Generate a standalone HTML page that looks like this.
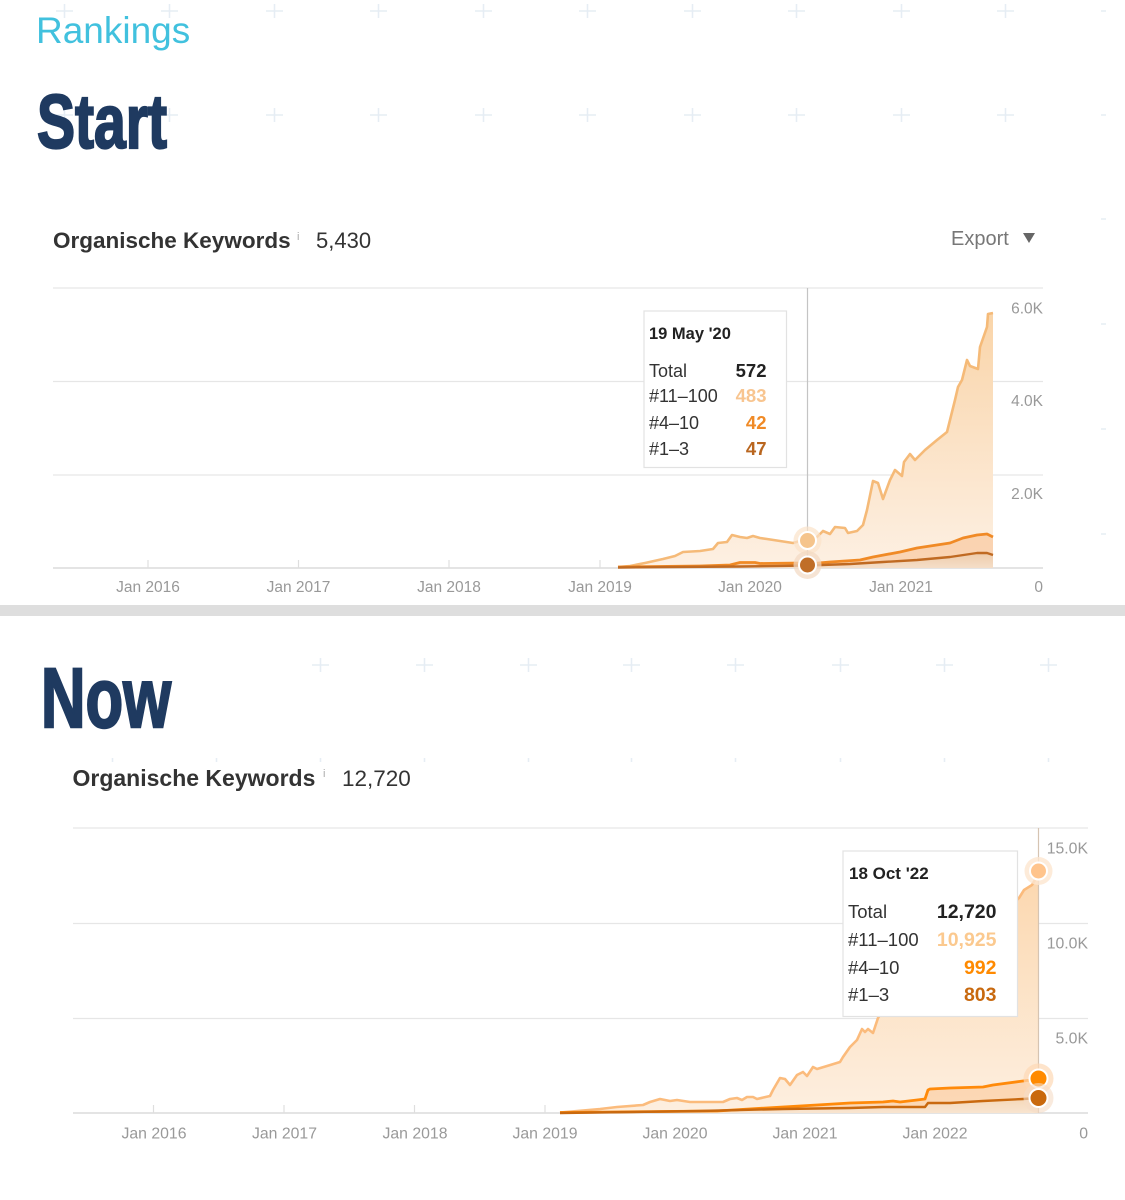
<!DOCTYPE html>
<html>
<head>
<meta charset="utf-8">
<style>
  html,body{margin:0;padding:0;background:#fff;}
  svg{display:block;}
  text{font-family:"Liberation Sans",Arial,sans-serif;}
</style>
</head>
<body>
<svg width="1125" height="1200" viewBox="0 0 1125 1200" xmlns="http://www.w3.org/2000/svg">
  <defs>
    <linearGradient id="tl1" gradientUnits="userSpaceOnUse" x1="0" y1="300" x2="0" y2="568">
      <stop offset="0" stop-color="#f9d3a6"/>
      <stop offset="1" stop-color="#fdf0e3"/>
    </linearGradient>
    <linearGradient id="td1" gradientUnits="userSpaceOnUse" x1="0" y1="535" x2="0" y2="568">
      <stop offset="0" stop-color="#e2ae7c"/>
      <stop offset="1" stop-color="#f3e0cd"/>
    </linearGradient>
    <linearGradient id="bl1" gradientUnits="userSpaceOnUse" x1="0" y1="860" x2="0" y2="1113">
      <stop offset="0" stop-color="#fcd6ac"/>
      <stop offset="1" stop-color="#fdefe0"/>
    </linearGradient>
    <linearGradient id="bd1" gradientUnits="userSpaceOnUse" x1="0" y1="1080" x2="0" y2="1113">
      <stop offset="0" stop-color="#f2c596"/>
      <stop offset="1" stop-color="#f7e6d4"/>
    </linearGradient>
  </defs>

  <!-- background plus pattern -->
  <g stroke="#e6edf4" stroke-width="1.5">
    <path d="M56 11h17M64.5 4v14"/>
    <path d="M161 11h17M169.5 4v14"/>
    <path d="M266 11h17M274.5 4v14"/>
    <path d="M370 11h17M378.5 4v14"/>
    <path d="M475 11h17M483.5 4v14"/>
    <path d="M579 11h17M587.5 4v14"/>
    <path d="M684 11h17M692.5 4v14"/>
    <path d="M788 11h17M796.5 4v14"/>
    <path d="M893 11h17M901.5 4v14"/>
    <path d="M997 11h17M1005.5 4v14"/>

    <path d="M56 115h17M64.5 108v14"/>
    <path d="M161 115h17M169.5 108v14"/>
    <path d="M266 115h17M274.5 108v14"/>
    <path d="M370 115h17M378.5 108v14"/>
    <path d="M475 115h17M483.5 108v14"/>
    <path d="M579 115h17M587.5 108v14"/>
    <path d="M684 115h17M692.5 108v14"/>
    <path d="M788 115h17M796.5 108v14"/>
    <path d="M893 115h17M901.5 108v14"/>
    <path d="M997 115h17M1005.5 108v14"/>
    <path d="M1101 11h5M1101 115h5M1101 219h5M1101 324h5M1101 429h5M1101 534h5"/>

    <path d="M312 665h17M320.5 658v14"/>
    <path d="M416 665h17M424.5 658v14"/>
    <path d="M520 665h17M528.5 658v14"/>
    <path d="M623 665h17M631.5 658v14"/>
    <path d="M727 665h17M735.5 658v14"/>
    <path d="M832 665h17M840.5 658v14"/>
    <path d="M936 665h17M944.5 658v14"/>
    <path d="M1040 665h17M1048.5 658v14"/>
    <path d="M112.5 758v4M216.5 758v4M320.5 758v4M424.5 758v4M528.5 758v4M631.5 758v4M735.5 758v4M840.5 758v4M944.5 758v4M1048.5 758v4"/>
  </g>

  <!-- Titles -->
  <text x="36" y="43" font-size="37" fill="#41c1de">Rankings</text>
  <text x="37" y="148" font-size="76" font-weight="bold" fill="#1f3a60" stroke="#1f3a60" stroke-width="2.2" stroke-linejoin="miter" textLength="130" lengthAdjust="spacingAndGlyphs">Start</text>

  <!-- ===== Top chart header ===== -->
  <text x="53" y="248" font-size="22.5" font-weight="bold" fill="#333">Organische Keywords</text>
  <text x="297" y="240" font-size="11" fill="#aaa">i</text>
  <text x="316" y="248" font-size="22" fill="#333">5,430</text>
  <text x="951" y="245" font-size="20" fill="#777">Export</text>
  <polygon points="1023,233 1035,233 1029,243" fill="#666"/>

  <!-- Top chart grid -->
  <g stroke="#e6e6e6" stroke-width="1.2">
    <line x1="53" y1="288" x2="1043" y2="288"/>
    <line x1="53" y1="381.5" x2="1043" y2="381.5"/>
    <line x1="53" y1="475" x2="1043" y2="475"/>
  </g>
  <line x1="53" y1="568" x2="1043" y2="568" stroke="#dcdcdc" stroke-width="1.5"/>
  <g stroke="#dedede" stroke-width="1.2">
    <line x1="148" y1="560" x2="148" y2="568"/>
    <line x1="298.5" y1="560" x2="298.5" y2="568"/>
    <line x1="449" y1="560" x2="449" y2="568"/>
    <line x1="600" y1="560" x2="600" y2="568"/>
    <line x1="750" y1="560" x2="750" y2="568"/>
    <line x1="901" y1="560" x2="901" y2="568"/>
  </g>
  <g font-size="15.5" fill="#999" text-anchor="middle">
    <text x="148" y="592">Jan 2016</text>
    <text x="298.5" y="592">Jan 2017</text>
    <text x="449" y="592">Jan 2018</text>
    <text x="600" y="592">Jan 2019</text>
    <text x="750" y="592">Jan 2020</text>
    <text x="901" y="592">Jan 2021</text>
  </g>
  <g font-size="15.5" fill="#999" text-anchor="end">
    <text x="1043" y="313.5">6.0K</text>
    <text x="1043" y="406">4.0K</text>
    <text x="1043" y="499">2.0K</text>
    <text x="1043" y="592">0</text>
  </g>

  <!-- Top chart series -->
  <path fill="url(#tl1)" d="M618,567 L630,566 L645,563 L663,559 L675,556 L683,552 L700,551 L713,549 L718,543 L727,542 L732,535 L740,537 L747,538 L753,536 L760,538 L767,539 L780,541 L793,543 L800,541 L807,541 L812,540 L817,537 L823,531 L830,534 L835,527 L845,528 L848,533 L857,531 L863,525 L867,510 L873,481 L878,483 L883,499 L890,480 L895,470 L902,476 L904,462 L910,454 L915,460 L925,450 L937,440 L947,432 L950,420 L955,400 L958,387 L962,380 L967,360 L970,366 L978,369 L980,347 L987,327 L988,314 L993,313 L993,568 L618,568 Z"/>
  <path fill="#f4a868" fill-opacity="0.38" d="M618,567 L700,566 L730,565 L740,562.5 L755,562.5 L760,563.5 L800,563 L807,564 L830,562 L860,560 L873,557 L900,552 L917,548 L950,543 L963,538 L977,535 L987,534 L993,537 L993,568 L618,568 Z"/>
  <path fill="url(#td1)" fill-opacity="0.8" d="M618,567.5 L740,566.5 L807,565.5 L850,564 L883,562 L917,560 L950,557 L977,553 L987,553 L993,555 L993,568 L618,568 Z"/>
  <polyline fill="none" stroke="#f5ba78" stroke-width="2.6" stroke-linejoin="round" points="618,567 630,566 645,563 663,559 675,556 683,552 700,551 713,549 718,543 727,542 732,535 740,537 747,538 753,536 760,538 767,539 780,541 793,543 800,541 807,541 812,540 817,537 823,531 830,534 835,527 845,528 848,533 857,531 863,525 867,510 873,481 878,483 883,499 890,480 895,470 902,476 904,462 910,454 915,460 925,450 937,440 947,432 950,420 955,400 958,387 962,380 967,360 970,366 978,369 980,347 987,327 988,314 993,313"/>
  <polyline fill="none" stroke="#f08a26" stroke-width="2.8" stroke-linejoin="round" points="618,567 700,566 730,565 740,562.5 755,562.5 760,563.5 800,563 807,564 830,562 860,560 873,557 900,552 917,548 950,543 963,538 977,535 987,534 993,537"/>
  <polyline fill="none" stroke="#c06a22" stroke-width="2.4" stroke-linejoin="round" points="618,567.5 740,566.5 807,565.5 850,564 883,562 917,560 950,557 977,553 987,553 993,555"/>

  <!-- Top crosshair & tooltip -->
  <line x1="807.5" y1="288" x2="807.5" y2="568" stroke="#c4c4c4" stroke-width="1.2"/>
  <rect x="644" y="311" width="142.5" height="156.5" fill="#fff" stroke="#e2e2e2" stroke-width="1.2"/>
  <text x="649" y="339" font-size="16.5" font-weight="bold" fill="#222">19 May '20</text>
  <g font-size="18" fill="#333">
    <text x="649" y="377">Total</text>
    <text x="649" y="402">#11–100</text>
    <text x="649" y="429">#4–10</text>
    <text x="649" y="455">#1–3</text>
  </g>
  <g font-size="18.5" font-weight="bold" text-anchor="end">
    <text x="766.5" y="377" fill="#222">572</text>
    <text x="766.5" y="402" fill="#f8c590">483</text>
    <text x="766.5" y="429" fill="#f08a26">42</text>
    <text x="766.5" y="455" fill="#b9661f">47</text>
  </g>
  <!-- top dots -->
  <circle cx="807.5" cy="540.5" r="14" fill="#fbe3c9" fill-opacity="0.7"/>
  <circle cx="807.5" cy="540.5" r="8.5" fill="#f5c48c" stroke="#fff" stroke-width="2"/>
  <circle cx="807.5" cy="565" r="14" fill="#f2d9c2" fill-opacity="0.7"/>
  <circle cx="807.5" cy="565" r="8.5" fill="#c06e28" stroke="#fff" stroke-width="2"/>

  <!-- divider -->
  <rect x="0" y="605" width="1125" height="11" fill="#dedede"/>

  <!-- ===== Bottom section ===== -->
  <text x="41" y="727" font-size="84" font-weight="bold" fill="#1f3a60" stroke="#1f3a60" stroke-width="2.4" stroke-linejoin="miter" textLength="130" lengthAdjust="spacingAndGlyphs">Now</text>
  <text x="72.5" y="786" font-size="23" font-weight="bold" fill="#333">Organische Keywords</text>
  <text x="323" y="777" font-size="11" fill="#aaa">i</text>
  <text x="342" y="786" font-size="22.5" fill="#333">12,720</text>

  <g stroke="#e6e6e6" stroke-width="1.2">
    <line x1="73" y1="828" x2="1088" y2="828"/>
    <line x1="73" y1="923.5" x2="1088" y2="923.5"/>
    <line x1="73" y1="1018.5" x2="1088" y2="1018.5"/>
  </g>
  <line x1="73" y1="1113" x2="1088" y2="1113" stroke="#dcdcdc" stroke-width="1.5"/>
  <g stroke="#dedede" stroke-width="1.2">
    <line x1="153.5" y1="1105" x2="153.5" y2="1113"/>
    <line x1="284" y1="1105" x2="284" y2="1113"/>
    <line x1="414.5" y1="1105" x2="414.5" y2="1113"/>
    <line x1="545" y1="1105" x2="545" y2="1113"/>
    <line x1="675" y1="1105" x2="675" y2="1113"/>
    <line x1="805" y1="1105" x2="805" y2="1113"/>
    <line x1="935" y1="1105" x2="935" y2="1113"/>
  </g>
  <g font-size="15.8" fill="#999" text-anchor="middle">
    <text x="154" y="1138.5">Jan 2016</text>
    <text x="284.5" y="1138.5">Jan 2017</text>
    <text x="415" y="1138.5">Jan 2018</text>
    <text x="545" y="1138.5">Jan 2019</text>
    <text x="675" y="1138.5">Jan 2020</text>
    <text x="805" y="1138.5">Jan 2021</text>
    <text x="935" y="1138.5">Jan 2022</text>
  </g>
  <g font-size="15.8" fill="#999" text-anchor="end">
    <text x="1088" y="853.5">15.0K</text>
    <text x="1088" y="948.5">10.0K</text>
    <text x="1088" y="1043.5">5.0K</text>
    <text x="1088" y="1138.5">0</text>
  </g>

  <!-- Bottom series -->
  <path fill="url(#bl1)" d="M560,1112.5 L600,1109 L617,1107 L643,1105 L650,1102 L660,1099 L670,1101 L677,1100 L690,1102 L723,1102 L730,1099 L737,1098 L742,1100 L747,1097 L753,1097 L757,1099 L770,1096 L773,1090 L780,1078 L785,1079 L790,1085 L797,1075 L803,1072 L807,1076 L813,1067 L817,1069 L827,1066 L840,1062 L843,1057 L850,1047 L857,1040 L862,1029 L865,1032 L868,1029 L873,1033 L875,1027 L878,1018 L883,1010 L900,990 L920,975 L940,960 L960,945 L980,930 L1000,915 L1019,898 L1024,890 L1032,885 L1036,878 L1038,871 L1038,1113 L560,1113 Z"/>
  <path fill="#f9b06a" fill-opacity="0.35" d="M560,1112.5 L717,1111 L783,1107 L817,1105 L850,1103 L883,1102 L893,1101 L900,1102 L917,1100 L925,1099 L928,1090 L930,1089 L950,1088 L983,1087 L993,1085 L1023,1081 L1038,1079 L1038,1113 L560,1113 Z"/>
  <path fill="url(#bd1)" fill-opacity="0.85" d="M560,1113 L700,1111 L783,1109 L850,1108 L883,1107 L925,1107 L928,1103 L950,1103 L983,1101 L1023,1099 L1038,1098 L1038,1113 L560,1113 Z"/>
  <polyline fill="none" stroke="#fbbb7c" stroke-width="2.6" stroke-linejoin="round" points="560,1112.5 600,1109 617,1107 643,1105 650,1102 660,1099 670,1101 677,1100 690,1102 723,1102 730,1099 737,1098 742,1100 747,1097 753,1097 757,1099 770,1096 773,1090 780,1078 785,1079 790,1085 797,1075 803,1072 807,1076 813,1067 817,1069 827,1066 840,1062 843,1057 850,1047 857,1040 862,1029 865,1032 868,1029 873,1033 875,1027 878,1018 883,1010 900,990 920,975 940,960 960,945 980,930 1000,915 1019,898 1024,890 1032,885 1036,878 1038,871"/>
  <polyline fill="none" stroke="#ff8a0a" stroke-width="2.8" stroke-linejoin="round" points="560,1112.5 717,1111 783,1107 817,1105 850,1103 883,1102 893,1101 900,1102 917,1100 925,1099 928,1090 930,1089 950,1088 983,1087 993,1085 1023,1081 1038,1079"/>
  <polyline fill="none" stroke="#c9690f" stroke-width="2.4" stroke-linejoin="round" points="560,1113 700,1111 783,1109 850,1108 883,1107 925,1107 928,1103 950,1103 983,1101 1023,1099 1038,1098"/>

  <!-- Bottom crosshair & tooltip -->
  <line x1="1038.5" y1="828" x2="1038.5" y2="1113" stroke="#d6c4b2" stroke-width="1.2"/>
  <rect x="843" y="851" width="174.5" height="165.5" fill="#fff" stroke="#e2e2e2" stroke-width="1.2"/>
  <text x="849" y="879" font-size="17" font-weight="bold" fill="#222">18 Oct '22</text>
  <g font-size="18.5" fill="#333">
    <text x="848" y="918">Total</text>
    <text x="848" y="946">#11–100</text>
    <text x="848" y="974">#4–10</text>
    <text x="848" y="1001">#1–3</text>
  </g>
  <g font-size="19.5" font-weight="bold" text-anchor="end">
    <text x="996.5" y="918" fill="#222">12,720</text>
    <text x="996.5" y="946" fill="#fbc98f">10,925</text>
    <text x="996.5" y="974" fill="#ff8a00">992</text>
    <text x="996.5" y="1001" fill="#c8690f">803</text>
  </g>
  <!-- bottom dots -->
  <circle cx="1038.5" cy="871" r="14" fill="#fde6cf" fill-opacity="0.8"/>
  <circle cx="1038.5" cy="871" r="8.5" fill="#ffc48c" stroke="#fff" stroke-width="2"/>
  <circle cx="1038.5" cy="1078.5" r="15" fill="#fdd9b5" fill-opacity="0.7"/>
  <circle cx="1038.5" cy="1078.5" r="9" fill="#ff8a00" stroke="#fff" stroke-width="2"/>
  <circle cx="1038.5" cy="1098" r="15" fill="#f5dcc6" fill-opacity="0.6"/>
  <circle cx="1038.5" cy="1098" r="9" fill="#c9690d" stroke="#fff" stroke-width="2"/>
</svg>
</body>
</html>
